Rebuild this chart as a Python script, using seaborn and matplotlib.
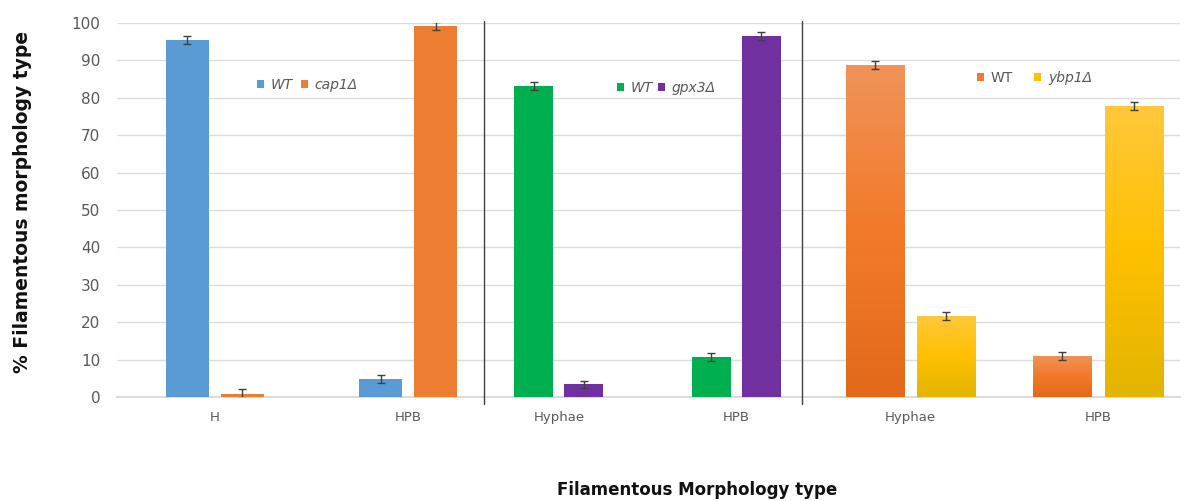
import numpy as np
import pandas as pd
import matplotlib
matplotlib.use("Agg")
import matplotlib.pyplot as plt
import seaborn as sns
from matplotlib.patches import Patch
from matplotlib.colors import LinearSegmentedColormap

# ---- data -------------------------------------------------------------
cap1_categories = ["H", "HPB"]
cap1_strains = ["WT", "cap1Δ"]
cap1_wt = [95.4, 4.8]
cap1_mut = [1.0, 99.1]
cap1_wt_err = [1.0, 1.1]
cap1_mut_err = [1.2, 1.0]

gpx3_categories = ["Hyphae", "HPB"]
gpx3_strains = ["WT", "gpx3Δ"]
gpx3_wt = [83.1, 10.7]
gpx3_mut = [3.5, 96.4]
gpx3_wt_err = [1.1, 1.0]
gpx3_mut_err = [0.9, 1.0]

ybp1_categories = ["Hyphae", "HPB"]
ybp1_strains = ["WT", "ybp1Δ"]
ybp1_wt = [88.7, 11.0]
ybp1_mut = [21.8, 77.8]
ybp1_wt_err = [1.0, 1.1]
ybp1_mut_err = [1.1, 1.0]

y_ticks = list(range(0, 101, 10))


def frame(categories, strains, wt, mut):
    return pd.DataFrame({
        "morphology": categories * 2,
        "strain": [strains[0]] * len(categories) + [strains[1]] * len(categories),
        "percent": list(wt) + list(mut),
    })


panels = [
    dict(df=frame(cap1_categories, cap1_strains, cap1_wt, cap1_mut),
         cats=cap1_categories, strains=cap1_strains,
         errs=[cap1_wt_err, cap1_mut_err],
         colors=["#5B9BD5", "#ED7D31"], xlim=(-0.503, 1.389),
         width=0.567, gap=0.217, leg=(0.381, 0.833), colspace=0.55,
         italic=[True, True], gradient=None),
    dict(df=frame(gpx3_categories, gpx3_strains, gpx3_wt, gpx3_mut),
         cats=gpx3_categories, strains=gpx3_strains,
         errs=[gpx3_wt_err, gpx3_mut_err],
         colors=["#00B050", "#7030A0"], xlim=(-0.4225, 1.369),
         width=0.563, gap=0.219, leg=(0.418, 0.825), colspace=0.35,
         italic=[True, True], gradient=None),
    dict(df=frame(ybp1_categories, ybp1_strains, ybp1_wt, ybp1_mut),
         cats=ybp1_categories, strains=ybp1_strains,
         errs=[ybp1_wt_err, ybp1_mut_err],
         colors=["#F07B2A", "#FFC000"], xlim=(-0.581, 1.435),
         width=0.763, gap=0.18, leg=(0.463, 0.852), colspace=1.55,
         italic=[False, True],
         gradient=[["#F0935A", "#F27A28", "#E2691A"],
                   ["#FFC83C", "#FFC000", "#E2B500"]]),
]

# ---- figure -----------------------------------------------------------
sns.set_theme(style="white")
plt.rcParams["font.family"] = ["DejaVu Sans"]

fig = plt.figure(figsize=(11.94, 5.01), dpi=100)
gs = fig.add_gridspec(1, 3, left=0.098, right=0.988, bottom=0.207, top=0.9547,
                      width_ratios=[367, 318, 378], wspace=0)
axes = [fig.add_subplot(gs[0, i]) for i in range(3)]

grid_color = "#DDDDDD"
text_gray = "#595959"

for i, (ax, p) in enumerate(zip(axes, panels)):
    sns.barplot(data=p["df"], x="morphology", y="percent", hue="strain",
                order=p["cats"], hue_order=p["strains"], palette=p["colors"],
                width=p["width"], gap=p["gap"], errorbar=None, saturation=1,
                legend=False, linewidth=0, ax=ax, zorder=3)

    # vertical gradient fill on each bar
    if p["gradient"] is not None:
        ramp = np.linspace(0, 1, 256).reshape(-1, 1)
        for container, stops in zip(ax.containers, p["gradient"]):
            cmap = LinearSegmentedColormap.from_list("ramp", stops[::-1])
            for bar in container:
                x0, y0 = bar.get_x(), bar.get_y()
                w, h = bar.get_width(), bar.get_height()
                im = ax.imshow(ramp, extent=[x0, x0 + w, y0, y0 + h],
                               origin="lower", aspect="auto", cmap=cmap,
                               zorder=3.5, interpolation="bilinear")
                im.set_clip_path(bar)

    # error bars
    for container, errs in zip(ax.containers, p["errs"]):
        xs = [b.get_x() + b.get_width() / 2 for b in container]
        ys = [b.get_height() for b in container]
        ax.errorbar(xs, ys, yerr=errs, fmt="none", ecolor="#404040",
                    elinewidth=1, capsize=3, capthick=1, zorder=5)

    ax.set_xlim(*p["xlim"])
    ax.set_ylim(0, 100)
    ax.set_yticks(y_ticks)
    ax.yaxis.grid(True, color=grid_color, linewidth=1, zorder=0)
    ax.set_axisbelow(True)
    for s in ["left", "right", "top"]:
        ax.spines[s].set_visible(False)
    ax.spines["bottom"].set_color("#D4D4D4")
    ax.spines["bottom"].set_linewidth(1.2)
    ax.set_xlabel("")
    ax.set_ylabel("")
    ax.tick_params(axis="x", length=0, pad=10, labelsize=9.5, labelcolor=text_gray)
    ax.tick_params(axis="y", length=0, pad=12, labelsize=11, labelcolor=text_gray)
    if i > 0:
        ax.tick_params(axis="y", labelleft=False)
        ax.plot([0, 0], [-0.018, 1.005], transform=ax.transAxes, color="#404040",
                linewidth=1, clip_on=False, zorder=6)

    handles = [Patch(facecolor=c, edgecolor="none") for c in p["colors"]]
    leg = ax.legend(handles, p["strains"], ncol=2, frameon=False,
                    loc="center left", bbox_to_anchor=p["leg"],
                    borderpad=0, borderaxespad=0, handlelength=0.5,
                    handleheight=0.5, handletextpad=0.5,
                    columnspacing=p["colspace"], fontsize=10)
    for t, it in zip(leg.get_texts(), p["italic"]):
        t.set_color(text_gray)
        t.set_style("italic" if it else "normal")

fig.text(23 / 1194, 0.596, "% Filamentous morphology type", rotation=90,
         ha="center", va="center", fontsize=13.5, fontweight="bold", color="#111111")
fig.text(697 / 1194, 0.022, "Filamentous Morphology type", ha="center",
         va="center", fontsize=12, fontweight="bold", color="#111111")

fig.savefig("out.png", dpi=100)
